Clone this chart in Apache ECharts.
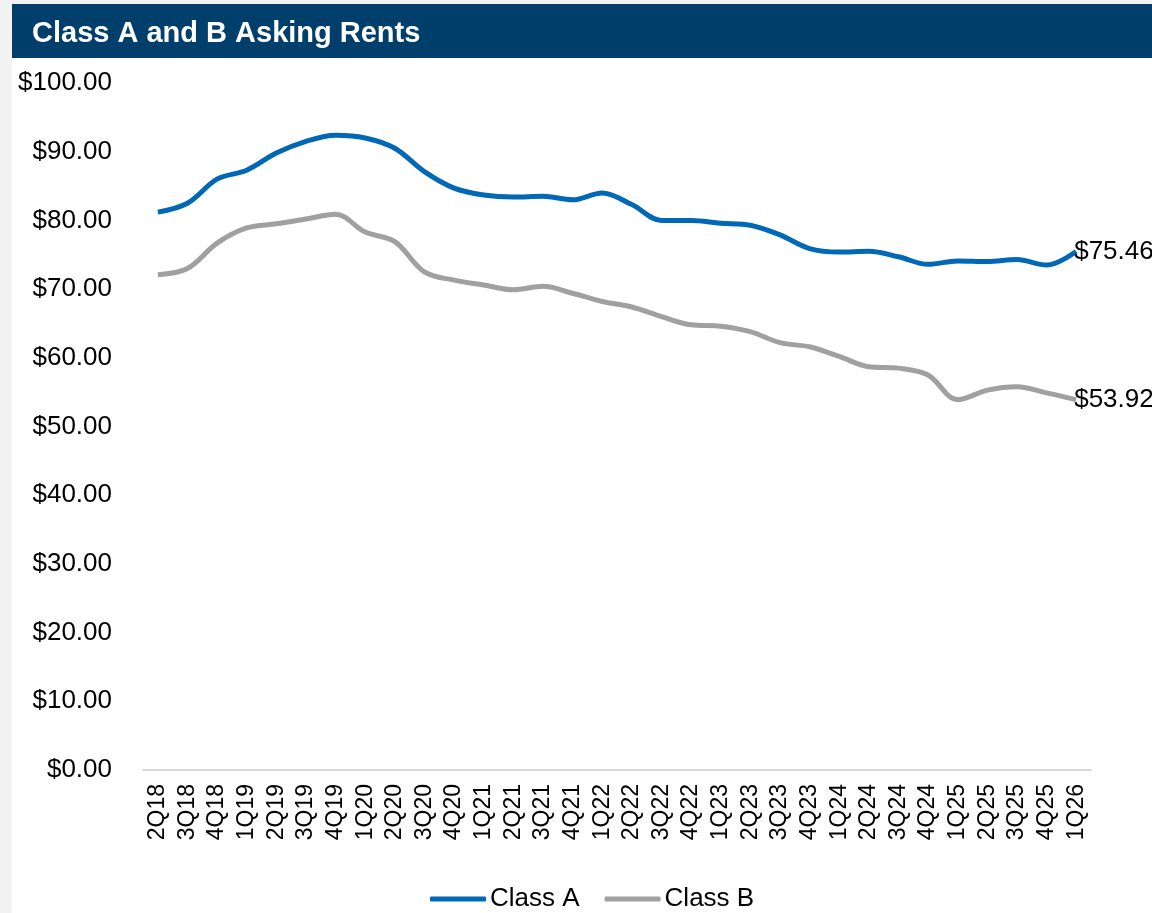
<!DOCTYPE html>
<html>
<head>
<meta charset="utf-8">
<title>Class A and B Asking Rents</title>
<script src="https://cdn.jsdelivr.net/npm/echarts@6/dist/echarts.min.js"></script>
<style>
    html, body { margin: 0; padding: 0; background: #f2f2f2; }
    #chart { width: 1152px; height: 913px; }
</style>
</head>
<body>
<div id="chart"></div>
<script>
// quarters on the x axis
const quarters = [
    '2Q18', '3Q18', '4Q18', '1Q19', '2Q19', '3Q19', '4Q19', '1Q20',
    '2Q20', '3Q20', '4Q20', '1Q21', '2Q21', '3Q21', '4Q21', '1Q22',
    '2Q22', '3Q22', '4Q22', '1Q23', '2Q23', '3Q23', '4Q23', '1Q24',
    '2Q24', '3Q24', '4Q24', '1Q25', '2Q25', '3Q25', '4Q25', '1Q26'
];

// asking rents, $/sf
const classA = [
    81.2, 82.5, 86.0, 87.3, 89.8, 91.5, 92.4, 92.0,
    90.5, 87.1, 84.7, 83.7, 83.4, 83.5, 83.0, 84.0,
    82.3, 80.0, 80.0, 79.6, 79.3, 77.9, 75.9, 75.4,
    75.5, 74.7, 73.6, 74.1, 74.0, 74.3, 73.5, 75.46
];
const classB = [
    72.1, 73.0, 76.7, 78.9, 79.5, 80.2, 80.9, 78.3,
    76.9, 72.5, 71.3, 70.6, 69.9, 70.4, 69.4, 68.2,
    67.4, 66.0, 64.8, 64.6, 63.8, 62.2, 61.6, 60.2,
    58.7, 58.5, 57.5, 53.9, 55.3, 55.8, 54.9, 53.92
];

const FONT = '"Liberation Sans", Arial, sans-serif';
const money = v => '$' + Number(v).toFixed(2);

const chart = echarts.init(document.getElementById('chart'));

function lineSeries(name, data, color) {
    return {
        name: name,
        type: 'line',
        data: data,
        smooth: 0.35,
        symbol: 'none',
        lineStyle: { color: color, width: 5 },
        itemStyle: { color: color },
        endLabel: {
            show: true,
            formatter: p => money(p.value),
            color: '#000',
            fontFamily: FONT,
            fontSize: 26,
            distance: -2
        }
    };
}

chart.setOption({
    backgroundColor: '#f2f2f2',
    animation: false,
    graphic: [
        // white panel
        { type: 'rect', shape: { x: 12, y: 4, width: 1140, height: 909 }, style: { fill: '#ffffff' }, z: -10 },
        // header band
        { type: 'rect', shape: { x: 12, y: 4, width: 1140, height: 54 }, style: { fill: '#003f6b' }, z: 1 },
        {
            type: 'text', left: 32, top: 19, z: 2,
            style: { text: 'Class A and B Asking Rents', fill: '#ffffff', font: 'bold 29px ' + FONT }
        }
    ],
    grid: { left: 143, right: 61, top: 83, bottom: 143, containLabel: false },
    legend: {
        bottom: -4,
        left: 425,
        icon: 'roundRect',
        itemWidth: 56,
        itemHeight: 5,
        itemGap: 25,
        textStyle: { color: '#000', fontFamily: FONT, fontSize: 26, padding: [0, 0, 0, -1] },
        data: ['Class A', 'Class B']
    },
    xAxis: {
        type: 'category',
        data: quarters,
        boundaryGap: true,
        axisLine: { lineStyle: { color: '#d9d9d9', width: 2 } },
        axisTick: { show: false },
        axisLabel: {
            rotate: 90,
            interval: 0,
            margin: 14,
            color: '#000',
            fontFamily: FONT,
            fontSize: 23
        }
    },
    yAxis: {
        type: 'value',
        min: 0,
        max: 100,
        interval: 10,
        splitLine: { show: false },
        axisLine: { show: false },
        axisTick: { show: false },
        axisLabel: {
            formatter: money,
            margin: 31,
            color: '#000',
            fontFamily: FONT,
            fontSize: 26
        }
    },
    series: [
        lineSeries('Class A', classA, '#0068b5'),
        lineSeries('Class B', classB, '#a0a0a0')
    ]
});

window.addEventListener('resize', () => chart.resize());
</script>
</body>
</html>
